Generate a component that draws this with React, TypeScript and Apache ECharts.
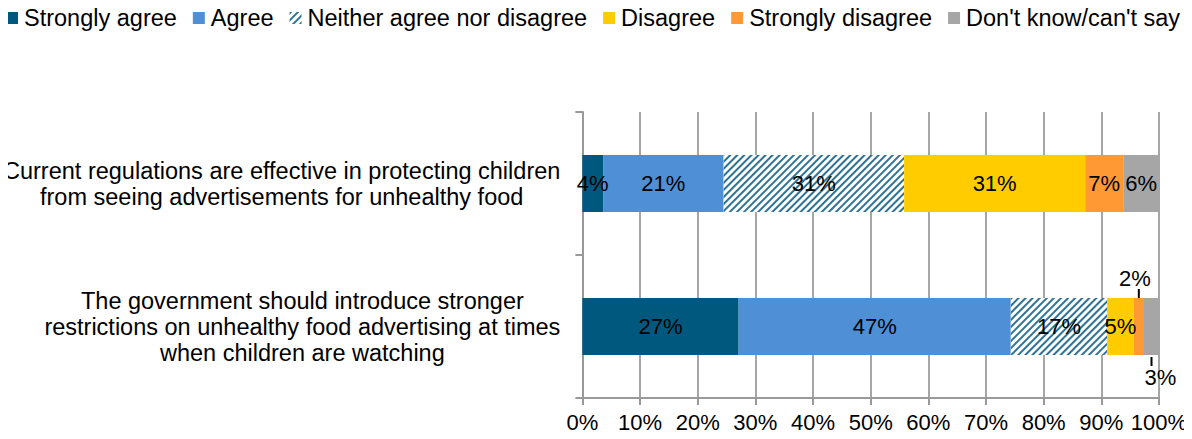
import React, { useEffect, useRef } from "react";
import * as echarts from "echarts";

const categories = [
  "Current regulations are effective in protecting children\nfrom seeing advertisements for unhealthy food",
  "The government should introduce stronger\nrestrictions on unhealthy food advertising at times\nwhen children are watching",
];
const seriesNames = [
  "Strongly agree",
  "Agree",
  "Neither agree nor disagree",
  "Disagree",
  "Strongly disagree",
  "Don't know/can't say",
];
const stronglyAgree = [3.6, 27.1];
const agree = [20.9, 47.2];
const neither = [31.3, 16.7];
const disagree = [31.4, 4.6];
const stronglyDisagree = [6.6, 1.8];
const dontKnow = [6.2, 2.6];
const xTicks = [0, 10, 20, 30, 40, 50, 60, 70, 80, 90, 100];

const FONT = "'Liberation Sans', Arial, sans-serif";
const colors = ["#00587e", "#4f8fd6", "#ffffff", "#ffcc00", "#ff9933", "#a6a6a6"];

export default function App() {
  const ref = useRef<HTMLDivElement>(null);
  useEffect(() => {
    if (!ref.current) return;
    const chart = echarts.init(ref.current, undefined, { renderer: "svg" });
    const values = [stronglyAgree, agree, neither, disagree, stronglyDisagree, dontKnow];
    const pct = (v: number) => Math.round(v) + "%";
    const series = values.map((vals, si) => ({
      name: seriesNames[si],
      type: "bar",
      stack: "total",
      barWidth: 57,
      itemStyle:
        si === 2
          ? {
              color: "#ffffff",
              decal: {
                symbol: "rect",
                symbolSize: 1,
                color: "#2f7394",
                dashArrayX: [1, 0],
                dashArrayY: [2, 3],
                rotation: -Math.PI / 4,
              },
            }
          : { color: colors[si] },
      label: {
        show: true,
        position: "inside",
        color: "#000",
        fontFamily: FONT,
        fontSize: 22,
        formatter: (p: any) => pct(p.value),
      },
      data: vals.map((v) => {
        if (v < 3 && si === 4) {
          return {
            value: v,
            label: {
              position: "top",
              distance: 0,
              formatter: (p: any) => "{t|" + pct(p.value) + "}\n{l|}",
              rich: {
                t: { align: "center", fontSize: 22, lineHeight: 22, fontFamily: FONT, color: "#000", padding: [0, 8, 0, 0] },
                l: { align: "center", width: 2, height: 9, backgroundColor: "#000" },
              },
            },
          };
        }
        if (v < 3 && si === 5) {
          return {
            value: v,
            label: {
              position: "bottom",
              distance: 2,
              formatter: (p: any) => "{l|}\n{t|" + pct(p.value) + "}",
              rich: {
                t: { align: "center", fontSize: 22, lineHeight: 22, fontFamily: FONT, color: "#000", padding: [0, 0, 0, 18] },
                l: { align: "center", width: 2, height: 9, backgroundColor: "#000" },
              },
            },
          };
        }
        return v;
      }),
    }));

    chart.setOption({
      animation: false,
      legend: {
        left: 1,
        top: 1,
        width: 2000,
        icon: "rect",
        itemWidth: 12,
        itemHeight: 12,
        itemGap: 16,
        textStyle: { fontFamily: FONT, fontSize: 23.5, color: "#000", padding: [0, 0, 0, 1] },
        data: seriesNames,
      },
      grid: { left: 579, right: 33, top: 112, bottom: 41, containLabel: false },
      xAxis: {
        type: "value",
        min: xTicks[0],
        max: xTicks[xTicks.length - 1],
        interval: 10,
        axisLine: { show: true, lineStyle: { color: "#999", width: 2 } },
        axisTick: { show: true, length: 7, lineStyle: { color: "#999", width: 2 } },
        splitLine: { show: true, lineStyle: { color: "#a6a6a6", width: 2 } },
        axisLabel: {
          margin: 13,
          fontFamily: FONT,
          fontSize: 22,
          color: "#000",
          formatter: (v: number) => v + "%",
        },
      },
      yAxis: {
        type: "category",
        inverse: true,
        data: categories,
        axisLine: { show: true, lineStyle: { color: "#999", width: 2 } },
        axisTick: { show: true, length: 7, lineStyle: { color: "#999", width: 2 } },
        axisLabel: {
          margin: 22,
          fontFamily: FONT,
          color: "#000",
          formatter: (v: string) =>
            v
              .split("\n")
              .map((l) => "{c|" + l + "}")
              .join("\n"),
          rich: {
            c: { align: "center", fontSize: 23.5, lineHeight: 26, fontFamily: FONT, color: "#000" },
          },
        },
      },
      series,
    });
    return () => chart.dispose();
  }, []);
  return <div ref={ref} style={{ width: 1192, height: 439, margin: -8 }} />;
}
